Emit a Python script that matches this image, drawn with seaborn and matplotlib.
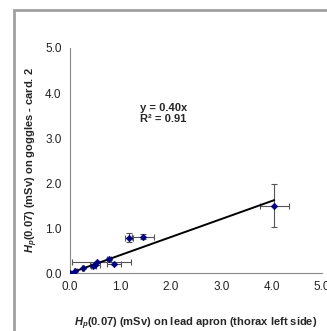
import matplotlib
matplotlib.use("Agg")
import matplotlib.pyplot as plt
import seaborn as sns
import numpy as np
from matplotlib.patches import Rectangle

# values (mSv)
apron = [0.00, 0.10, 0.26, 0.46, 0.50, 0.53, 0.77, 0.88, 1.17, 1.45, 4.05]
goggles = [0.00, 0.04, 0.11, 0.15, 0.17, 0.24, 0.32, 0.21, 0.78, 0.81, 1.50]
apron_err_lo = [0.00, 0.03, 0.02, 0.05, 0.10, 0.48, 0.04, 0.14, 0.08, 0.22, 0.29]
apron_err_hi = [0.00, 0.03, 0.02, 0.05, 0.09, 0.69, 0.04, 0.14, 0.08, 0.22, 0.29]
goggles_err = [0.00, 0.00, 0.00, 0.00, 0.00, 0.00, 0.02, 0.00, 0.10, 0.05, 0.47]
slope = 0.40
r2 = 0.91
ticks = [0, 1, 2, 3, 4, 5]

sns.set_style("white")
plt.rcParams["font.family"] = ["Liberation Sans", "DejaVu Sans"]
plt.rcParams["mathtext.fontset"] = "custom"
plt.rcParams["mathtext.it"] = "Liberation Sans:italic:bold"
plt.rcParams["mathtext.rm"] = "Liberation Sans:bold"
plt.rcParams["mathtext.bf"] = "Liberation Sans:bold"

fig = plt.figure(figsize=(3.27, 3.31), dpi=100)
ax = fig.add_axes([0.214, 0.175, 0.771, 0.68])

# gray frame of the original (cropped) chart area
fig.patches.append(Rectangle((14 / 327, -0.1), 1.2, (331 - 10) / 331 + 0.1,
                             transform=fig.transFigure, fill=False,
                             edgecolor="#a0a0a0", linewidth=2))

ax.errorbar(apron, goggles, xerr=[apron_err_lo, apron_err_hi], yerr=goggles_err,
            fmt="none", ecolor="#555555", elinewidth=0.8, capsize=2, capthick=0.8, zorder=2)
xs = np.array([0, max(apron)])
sns.lineplot(x=xs, y=slope * xs, color="black", linewidth=1.4, ax=ax, zorder=3)
sns.scatterplot(x=apron, y=goggles, marker="D", s=12, color="#000080",
                edgecolor="#000080", ax=ax, zorder=4)

ax.text(1.38, 3.35, f"y = {slope:.2f}x\nR² = {r2:.2f}", fontsize=8, fontweight="bold",
        linespacing=1.1)

ax.set_xlim(0, 5)
ax.set_ylim(0, 5)
ax.set_xticks(ticks)
ax.set_yticks(ticks)
ax.set_xticklabels([f"{t:.1f}" for t in ticks], fontsize=8.5)
ax.set_yticklabels([f"{t:.1f}" for t in ticks], fontsize=8.5)
ax.tick_params(direction="out", length=3, width=0.8, color="#888888", pad=3,
               labelcolor="#222222")
sns.despine(ax=ax)
for s in ["left", "bottom"]:
    ax.spines[s].set_color("#888888")
    ax.spines[s].set_linewidth(0.8)

ax.set_xlabel(r"$\mathit{H_p(0.07)}$ (mSv) on lead apron (thorax left side)",
              fontsize=8, fontweight="bold", labelpad=16)
ax.set_ylabel(r"$\mathit{H_p(0.07)}$ (mSv) on goggles - card. 2",
              fontsize=8, fontweight="bold", labelpad=4)

fig.savefig("out.png", dpi=100)
